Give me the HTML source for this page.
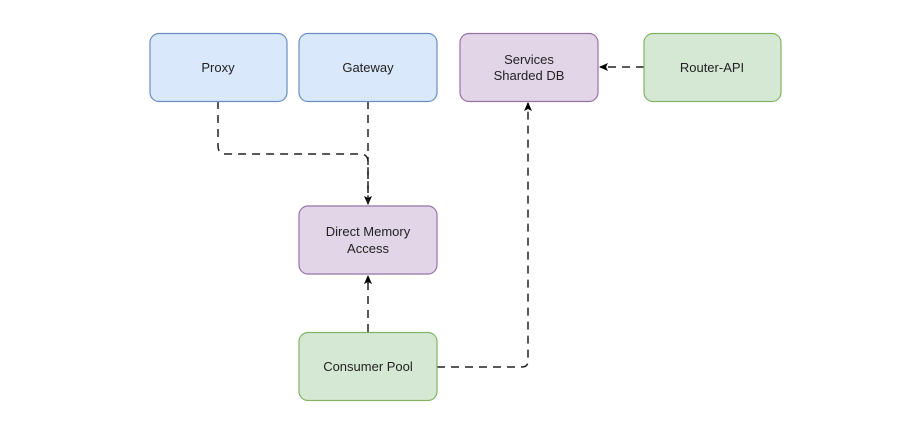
<!DOCTYPE html>
<html><head><meta charset="utf-8"><style>
html,body{margin:0;padding:0;background:#fff;}
svg{display:block}
text{font-family:"Liberation Sans",sans-serif;font-size:13px;fill:#222;text-anchor:middle;}
</style></head><body>
<svg width="908" height="436" viewBox="0 0 908 436">
<defs><marker id="a" markerWidth="10" markerHeight="10" refX="8" refY="5" orient="auto" markerUnits="userSpaceOnUse"><path d="M0,1 L9,5 L0,9 L2,5 Z" fill="#000"/></marker></defs>
<g fill="none" stroke="#222" stroke-width="1.5" stroke-dasharray="8,6">
<path d="M218,101 V146 Q218,154 226,154 H360 Q368,154 368,162 V204" marker-end="url(#a)"/>
<path d="M368,101 V204"/>
<path d="M368,332 V276" marker-end="url(#a)"/>
<path d="M437,367 H522 Q528,367 528,361 V103" marker-end="url(#a)"/>
<path d="M644,67 H600" marker-end="url(#a)"/>
</g>
<g stroke-width="1.2">
<rect x="150" y="33.5" width="137" height="68" rx="9" fill="#dae8fc" stroke="#6c8ebf"/>
<rect x="299" y="33.5" width="138" height="68" rx="9" fill="#dae8fc" stroke="#6c8ebf"/>
<rect x="460" y="33.5" width="138" height="68" rx="9" fill="#e1d5e7" stroke="#9673a6"/>
<rect x="644" y="33.5" width="137" height="68" rx="9" fill="#d5e8d4" stroke="#82b366"/>
<rect x="299" y="206" width="138" height="68" rx="9" fill="#e1d5e7" stroke="#9673a6"/>
<rect x="299" y="332.5" width="138" height="68" rx="9" fill="#d5e8d4" stroke="#82b366"/>
</g>
<text x="218" y="72">Proxy</text>
<text x="368" y="72">Gateway</text>
<text x="529" y="64">Services</text>
<text x="529" y="80">Sharded DB</text>
<text x="712" y="72">Router-API</text>
<text x="368" y="236">Direct Memory</text>
<text x="368" y="253">Access</text>
<text x="368" y="371">Consumer Pool</text>
</svg>
</body></html>
